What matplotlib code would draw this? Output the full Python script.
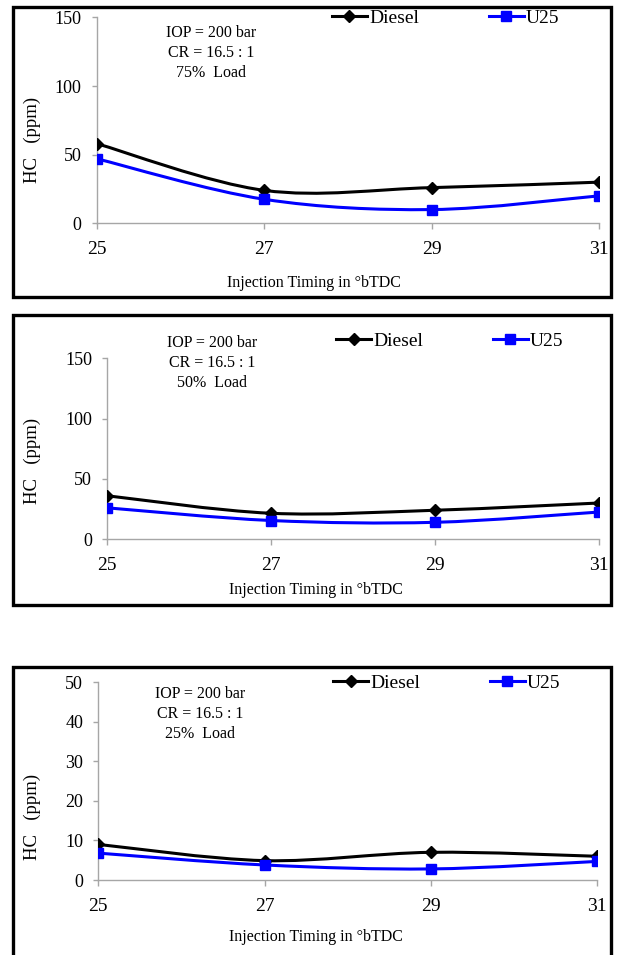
import matplotlib
matplotlib.use('Agg')
import matplotlib.pyplot as plt
from matplotlib.path import Path
from matplotlib.patches import PathPatch, Rectangle
from matplotlib.lines import Line2D

plt.rcParams['font.family'] = ['Liberation Serif', 'DejaVu Serif']

# Data (HC in ppm).

timing = [25, 27, 29, 31]
loads = ['75%', '50%', '25%']
diesel_75 = [58, 24, 26, 30]
u25_75 = [47, 17.5, 10, 20]
diesel_50 = [36, 21.5, 24, 30]
u25_50 = [26, 15.5, 14, 22.5]
diesel_25 = [9, 4.9, 7, 6]
u25_25 = [6.8, 3.8, 2.8, 4.7]

W, H = 618, 955

def fx(px):
    return px / W

def fy(py):
    return 1 - py / H

def smooth(x, y):
    # Excel style smoothed line: cubic bezier through the points
    n = len(x)
    verts = [(x[0], y[0])]
    codes = [Path.MOVETO]
    for i in range(n - 1):
        a = max(i - 1, 0)
        b = min(i + 2, n - 1)
        c1 = (x[i] + (x[i + 1] - x[a]) / 6, y[i] + (y[i + 1] - y[a]) / 6)
        c2 = (x[i + 1] - (x[b] - x[i]) / 6, y[i + 1] - (y[b] - y[i]) / 6)
        verts += [c1, c2, (x[i + 1], y[i + 1])]
        codes += [Path.CURVE4] * 3
    return Path(verts, codes)

fig = plt.figure(figsize=(W / 100, H / 100), dpi=100)

# pixel layout of each panel: axes box, frame, text spots
panels = [
    dict(ax=(97, 599, 17.5, 223.3), frame=(12.7, 611, 7.5, 297),
         ymax=150, ystep=50, d=diesel_75, u=u25_75,
         note=(211, 53), leg=(332, 18), xl=(314, 283), yl=(32, 140)),
    dict(ax=(107.3, 598.5, 358.3, 539.2), frame=(12.7, 611, 315, 605),
         ymax=150, ystep=50, d=diesel_50, u=u25_50,
         note=(212, 363), leg=(336, 341), xl=(316, 590), yl=(32, 461)),
    dict(ax=(98.3, 597, 682.3, 880), frame=(12.7, 611, 667.3, 990),
         ymax=50, ystep=10, d=diesel_25, u=u25_25,
         note=(200, 714), leg=(333, 683), xl=(316, 937), yl=(32, 817)),
]

for p, load in zip(panels, loads):
    l, r, t, b = p['ax']
    ax = fig.add_axes([fx(l), fy(b), (r - l) / W, (b - t) / H])

    # frame around the panel
    fl, fr, ft, fb = p['frame']
    fig.add_artist(Rectangle((fx(fl), fy(fb)), (fr - fl) / W, (fb - ft) / H,
                             transform=fig.transFigure, fill=False,
                             ec='black', lw=2.4, clip_on=False))

    ax.add_patch(PathPatch(smooth(timing, p['d']), fill=False, ec='black',
                           lw=2.2, capstyle='round', zorder=3))
    ax.plot(timing, p['d'], ls='none', marker='D', ms=6, color='black',
            zorder=4)
    ax.add_patch(PathPatch(smooth(timing, p['u']), fill=False, ec='#0000ff',
                           lw=2.2, capstyle='round', zorder=5))
    ax.plot(timing, p['u'], ls='none', marker='s', ms=7, color='#0000ff',
            zorder=6)

    ax.set_xlim(25, 31)
    ax.set_ylim(0, p['ymax'])
    ax.set_xticks(timing)
    ax.set_yticks(range(0, p['ymax'] + 1, p['ystep']))
    for s in ['top', 'right']:
        ax.spines[s].set_visible(False)
    for s in ['left', 'bottom']:
        ax.spines[s].set_color('#a6a6a6')
        ax.spines[s].set_linewidth(1.0)
    ax.tick_params(axis='x', length=4.5, width=1.0, color='#a6a6a6',
                   labelsize=14, pad=8.5)
    ax.tick_params(axis='y', length=3.5, width=1.0, color='#a6a6a6',
                   labelsize=13, pad=7.5)
    ax.set_facecolor('none')

    # labels
    fig.text(fx(p['xl'][0]), fy(p['xl'][1]), 'Injection Timing in \u00b0bTDC',
             ha='center', va='center', fontsize=11.5)
    fig.text(fx(p['yl'][0]), fy(p['yl'][1]), 'HC   (ppm)', rotation=90,
             ha='center', va='center', fontsize=13.5)
    fig.text(fx(p['note'][0]), fy(p['note'][1]),
             'IOP = 200 bar\nCR = 16.5 : 1\n%s  Load' % load,
             ha='center', va='center', fontsize=11.5, linespacing=1.35)

    handles = [
        Line2D([], [], color='black', lw=2.2, marker='D', ms=6),
        Line2D([], [], color='#0000ff', lw=2.2, marker='s', ms=7),
    ]
    ax.legend(handles, ['Diesel', 'U25'], ncol=2, frameon=False,
              loc='center left', bbox_to_anchor=(fx(p['leg'][0]), fy(p['leg'][1])),
              bbox_transform=fig.transFigure, borderpad=0, borderaxespad=0,
              handlelength=1.8, handletextpad=0.1, columnspacing=3.6,
              fontsize=14)

fig.savefig('out.png', dpi=100)
